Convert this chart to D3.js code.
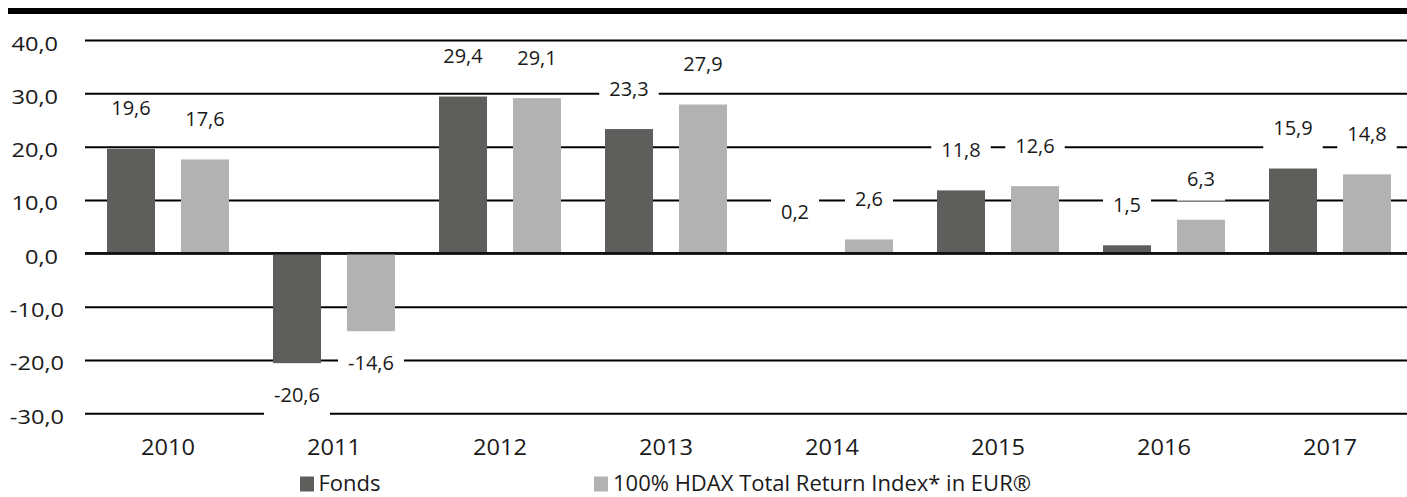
<!DOCTYPE html>
<html>
<head>
<meta charset="utf-8">
<script src="https://cdn.jsdelivr.net/npm/d3@7"></script>
<style>
  html, body { margin: 0; padding: 0; background: #fff; }
  svg { display: block; }
  text { font-family: "Open Sans", "Noto Sans", sans-serif; fill: #1a1a1a; }
</style>
</head>
<body>
<svg id="chart" width="1407" height="497"></svg>
<script>
// ---- data ----
const categories = ["2010", "2011", "2012", "2013", "2014", "2015", "2016", "2017"];
const seriesNames = ["Fonds", "100% HDAX Total Return Index* in EUR®"];
const fondsValues = [19.6, -20.6, 29.4, 23.3, 0.2, 11.8, 1.5, 15.9];
const hdaxValues = [17.6, -14.6, 29.1, 27.9, 2.6, 12.6, 6.3, 14.8];
const yTicks = [-30, -20, -10, 0, 10, 20, 30, 40];
const seriesColors = ["#5e5e5c", "#b2b2b2"];

const rows = categories.map((c, i) => ({ cat: c, values: [fondsValues[i], hdaxValues[i]] }));

const locale = d3.formatLocale({ decimal: ",", thousands: ".", grouping: [3], currency: ["", " €"], minus: "-" });
const fmt = locale.format(".1f");

const svg = d3.select("#chart");
const W = 1407, H = 497;
const plotLeft = 85, plotRight = 1413;

const x0 = d3.scaleBand().domain(categories).range([plotLeft, plotRight]).paddingInner(0.265).paddingOuter(0.1325);
const x1 = d3.scaleBand().domain([0, 1]).range([0, x0.bandwidth()]).paddingInner(0.351).paddingOuter(0);
const y = d3.scaleLinear().domain([-30, 40]).range([413.3, 40]);

// top black rule
svg.append("rect").attr("x", 8).attr("y", 8).attr("width", W - 8).attr("height", 6).attr("fill", "#000");

// y gridlines + labels
const yAxis = d3.axisLeft(y).tickValues(yTicks).tickSize(-(plotRight - plotLeft)).tickFormat(fmt);
const gy = svg.append("g").attr("transform", `translate(${plotLeft},0)`).call(yAxis);
gy.select(".domain").remove();
gy.selectAll(".tick line").attr("stroke", "#000").attr("stroke-width", 2);
gy.selectAll(".tick text")
  .attr("font-size", 20)
  .attr("dy", null)
  .attr("x", 0).attr("y", 0)
  .attr("text-anchor", "end")
  .attr("transform", d => `translate(${d < 0 ? -21 : -27},10) scale(1.18,1)`)
  .attr("fill", "#1a1a1a");

// bars
const groups = svg.append("g").selectAll("g").data(rows).join("g")
  .attr("transform", d => `translate(${x0(d.cat)},0)`);
groups.selectAll("rect").data(d => d.values.map((v, i) => ({ v, i }))).join("rect")
  .attr("x", d => x1(d.i))
  .attr("width", x1.bandwidth())
  .attr("y", d => y(Math.max(0, d.v)))
  .attr("height", d => Math.abs(y(d.v) - y(0)))
  .attr("fill", d => seriesColors[d.i]);

// zero line
svg.append("line").attr("x1", plotLeft).attr("x2", plotRight).attr("y1", y(0)).attr("y2", y(0))
  .attr("stroke", "#111").attr("stroke-width", 2.6);

// data labels with white boxes
const labelData = [];
rows.forEach(r => r.values.forEach((v, i) => labelData.push({ cat: r.cat, v, i })));
const lg = svg.append("g");
labelData.forEach(d => {
  const cx = x0(d.cat) + x1(d.i) + x1.bandwidth() / 2;
  const cy = d.v >= 0 ? y(d.v) - 40.5 : y(d.v) + 32;
  const g = lg.append("g");
  const rect = g.append("rect").attr("fill", "#fff");
  const t = g.append("text")
    .attr("x", cx).attr("y", cy + 7)
    .attr("text-anchor", "middle")
    .attr("font-size", 20)
    .text(fmt(d.v));
  const w = t.node().getComputedTextLength();
  rect.attr("x", cx - w / 2 - 10).attr("width", w + 20)
    .attr("y", cy - 13).attr("height", 34.5);
});

// x category labels
const gx = svg.append("g");
gx.selectAll("text").data(categories).join("text")
  .attr("x", 0).attr("y", 0)
  .attr("transform", d => `translate(${x0(d) + x0.bandwidth() / 2},455) scale(1.125,1)`)
  .attr("text-anchor", "middle")
  .attr("font-size", 21)
  .text(d => d);

// legend
const legendX = [300, 594];
const leg = svg.append("g");
seriesNames.forEach((name, i) => {
  leg.append("rect").attr("x", legendX[i]).attr("y", 476.5).attr("width", 14).attr("height", 15).attr("fill", seriesColors[i]);
  leg.append("text").attr("x", legendX[i] + (i === 0 ? 18.5 : 19)).attr("y", 490.5).attr("font-size", 22).text(name);
});
</script>
</body>
</html>
